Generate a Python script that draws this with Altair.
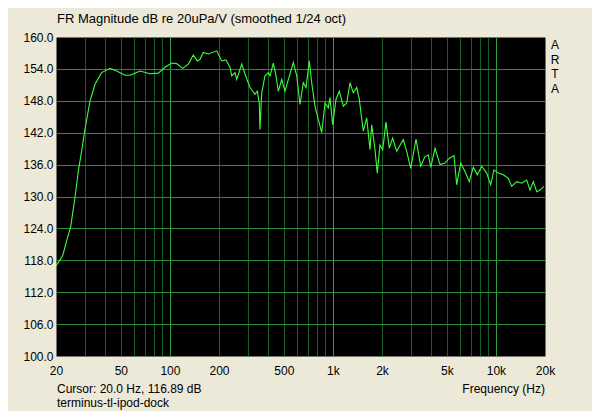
import altair as alt
import pandas as pd

freq_hz = [20.0, 22.0, 23.3, 24.6, 26.2, 27.4, 28.8, 30.1, 32.3, 34.7, 38.1, 42.9, 47.1, 53.0, 56.9,
           65.5, 75.5, 84.9, 93.3, 102.5, 110.0, 119.8, 129.6, 139.1, 147.2, 152.9, 160.2, 172.0,
           193.6, 207.8, 220.8, 233.7, 239.4, 250.8, 256.8, 275.7, 288.8, 309.9, 332.6, 343.6,
           353.3, 356.8, 365.6, 382.9, 401.4, 411.1, 430.8, 447.5, 462.2, 484.9, 508.2, 532.4,
           571.4, 599.7, 627.9, 658.0, 683.6, 716.2, 740.9, 776.2, 813.2, 853.4, 894.0, 936.6,
           959.4, 996.6, 1044, 1094, 1158, 1215, 1273, 1333, 1399, 1451, 1486, 1536, 1611, 1688,
           1730, 1812, 1871, 1944, 2020, 2116, 2217, 2326, 2462, 2554, 2703, 2836, 3000, 3234,
           3455, 3671, 3846, 3981, 4229, 4538, 4869, 5177, 5530, 5744, 6079, 6460, 6864, 7263,
           7686, 8178, 8776, 9288, 9732, 10338, 11098, 11910, 12496, 13414, 14392, 15444, 16182,
           16954, 17790, 18638, 19720]
mag_db = [116.9, 118.9, 121.8, 124.3, 130.0, 134.7, 138.8, 142.6, 147.9, 151.1, 153.3, 154.1, 153.6,
          152.8, 152.8, 153.6, 153.1, 153.2, 154.3, 155.1, 155.0, 154.1, 154.9, 156.6, 155.5, 155.8,
          157.1, 156.8, 157.4, 155.5, 155.7, 154.3, 152.7, 153.3, 152.0, 154.9, 153.0, 150.5, 149.2,
          149.8, 147.6, 142.6, 149.5, 152.7, 153.3, 152.7, 155.1, 152.7, 149.8, 152.0, 149.8, 152.0,
          155.2, 152.7, 147.3, 151.4, 150.5, 155.5, 151.4, 147.0, 144.5, 142.0, 147.6, 146.7, 148.6,
          143.5, 148.3, 149.8, 147.0, 147.6, 151.4, 149.5, 150.5, 148.3, 145.7, 142.3, 144.8, 138.8,
          143.5, 138.8, 134.4, 139.7, 138.8, 144.0, 139.1, 141.0, 138.5, 139.4, 140.7, 138.5, 135.3,
          140.8, 135.7, 137.5, 137.8, 135.5, 139.1, 136.0, 136.3, 137.2, 137.7, 132.2, 136.3, 134.7,
          132.8, 135.5, 134.1, 135.7, 134.4, 132.2, 135.0, 134.4, 134.1, 133.4, 131.9, 132.8, 132.5,
          133.1, 131.2, 132.8, 130.9, 131.2, 131.9]

y_ticks = [100, 106, 112, 118, 124, 130, 136, 142, 148, 154, 160]
x_grid = [20, 30, 40, 50, 60, 70, 80, 90, 100, 200, 300, 400, 500, 600, 700, 800, 900,
          1000, 2000, 3000, 4000, 5000, 6000, 7000, 8000, 9000, 10000, 20000]
x_label_vals = [20, 50, 100, 200, 500, 1000, 2000, 5000, 10000, 20000]
x_label_txt = ["20", "50", "100", "200", "500", "1k", "2k", "5k", "10k", "20k"]
decades = [100, 1000, 10000]

title_txt = "FR Magnitude dB re 20uPa/V (smoothed 1/24 oct)"
cursor_txt = "Cursor: 20.0 Hz, 116.89 dB"
name_txt = "terminus-tl-ipod-dock"
xtitle_txt = "Frequency (Hz)"
brand_txt = "A\nR\nT\nA"

FONT = "Liberation Sans"
BG = "#ECE9D8"

df = pd.DataFrame({"f": freq_hz, "db": mag_db})

label_expr = "".join(f"datum.value=={v}?'{t}':" for v, t in zip(x_label_vals, x_label_txt)) + "''"
dec_test = "||".join(f"datum.value=={d}" for d in decades)

x_axis = alt.Axis(
    values=x_grid, labelExpr=label_expr, grid=True, ticks=False, domain=False, title=None,
    labelFont=FONT, labelFontSize=12, labelColor="black", labelFlush=False, labelOverlap=False,
    labelPadding=9,
    gridColor={"condition": {"test": dec_test, "value": "#33a044"}, "value": "#185e26"},
    gridOpacity={"condition": {"test": "datum.value==20||datum.value==20000", "value": 0}, "value": 1},
    gridWidth=1,
)
y_axis = alt.Axis(
    values=y_ticks, format=".1f", grid=True, ticks=False, domain=False, title=None,
    labelFont=FONT, labelFontSize=12, labelColor="black", labelPadding=3,
    gridColor="#2a8c39",
    gridOpacity={"condition": {"test": "datum.value==100||datum.value==160", "value": 0}, "value": 1},
)

line = alt.Chart(df).mark_line(color="#3cff3c", strokeWidth=1.1, clip=True).encode(
    x=alt.X("f:Q", scale=alt.Scale(type="log", domain=[20, 20000], nice=False), axis=x_axis),
    y=alt.Y("db:Q", scale=alt.Scale(domain=[100, 160], nice=False, zero=False), axis=y_axis),
    order=alt.Order("f:Q"),
)


def txt(s, x, y, align="left", size=12, baseline="middle", **kw):
    return alt.Chart(pd.DataFrame({"t": [s]})).mark_text(
        align=align, baseline=baseline, font=FONT, fontSize=size, color="black", **kw
    ).encode(text="t:N", x=alt.value(x), y=alt.value(y))


chart = alt.layer(
    line,
    txt(title_txt, 1, -18, size=13),
    txt(cursor_txt, 1, 352),
    txt(name_txt, 1, 366),
    txt(xtitle_txt, 489, 352, align="right"),
    txt(brand_txt, 499, 3, align="center", baseline="top", lineBreak="\n", lineHeight=14.5),
).properties(
    width=489, height=319,
    autosize=alt.AutoSizeParams(type="none"),
    padding={"left": 48, "top": 29, "right": 47, "bottom": 55},
    background=BG,
).configure_view(fill="black", stroke="transparent")

chart.save("out.html", embed_options={"renderer": "svg", "actions": False})
